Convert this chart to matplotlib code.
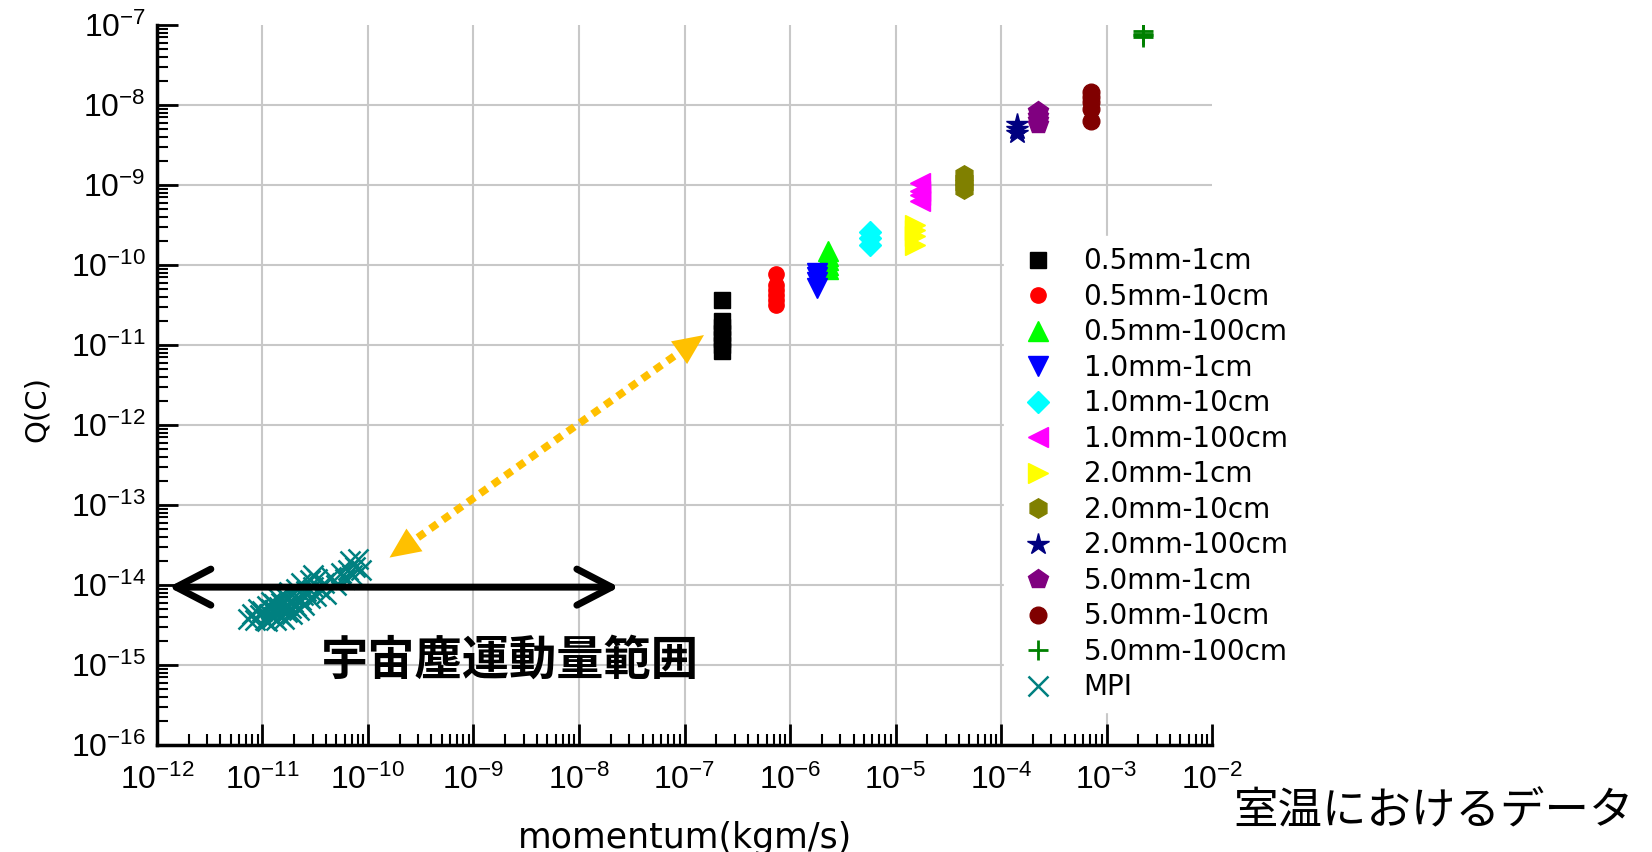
import numpy as np
import matplotlib
matplotlib.use('Agg')
import matplotlib.pyplot as plt
from matplotlib import font_manager
from matplotlib.ticker import LogLocator, LogFormatterSciNotation, NullFormatter

# series labels / styles
labels = ['0.5mm-1cm', '0.5mm-10cm', '0.5mm-100cm', '1.0mm-1cm', '1.0mm-10cm',
          '1.0mm-100cm', '2.0mm-1cm', '2.0mm-10cm', '2.0mm-100cm', '5.0mm-1cm',
          '5.0mm-10cm', '5.0mm-100cm', 'MPI']
markers = ['s', 'o', '^', 'v', 'D', '<', '>', 'h', '*', 'p', 'o', '+', 'x']
colors = ['#000000', '#ff0000', '#00ff00', '#0000ff', '#00ffff', '#ff00ff',
          '#ffff00', '#808000', '#000080', '#800080', '#800000', '#008000', '#008080']
sizes = [11, 11, 14, 14, 11, 14, 14, 14, 16, 15, 12, 14, 14]

# momentum (kgm/s) of each room temperature run
momentum = [2.28e-7, 7.3e-7, 2.29e-6, 1.79e-6, 5.7e-6, 1.69e-5,
            1.53e-5, 4.47e-5, 1.41e-4, 2.24e-4, 7.1e-4, 2.2e-3]

# measured charge Q (C)
q_05_1 = [3.6e-11, 2.0e-11, 1.7e-11, 1.4e-11, 1.2e-11, 1.0e-11, 8.5e-12]
q_05_10 = [7.7e-11, 5.6e-11, 4.8e-11, 4.2e-11, 3.6e-11, 3.2e-11]
q_05_100 = [1.5e-10, 1.3e-10, 1.15e-10, 1.0e-10, 9.0e-11]
q_10_1 = [8.0e-11, 7.0e-11, 6.2e-11, 5.2e-11]
q_10_10 = [2.6e-10, 2.2e-10, 1.8e-10]
q_10_100 = [1.05e-9, 8.5e-10, 7.5e-10, 6.3e-10]
q_20_1 = [3.2e-10, 2.7e-10, 2.3e-10, 1.8e-10]
q_20_10 = [1.35e-9, 1.15e-9, 1.0e-9, 9.0e-10]
q_20_100 = [5.7e-9, 5.0e-9, 4.4e-9]
q_50_1 = [8.5e-9, 7.3e-9, 6.5e-9, 5.8e-9]
q_50_10 = [1.45e-8, 1.25e-8, 1.1e-8, 9.0e-9, 6.3e-9]
q_50_100 = [8.5e-8, 7.8e-8, 7.4e-8, 7.0e-8]
charges = [q_05_1, q_05_10, q_05_100, q_10_1, q_10_10, q_10_100,
           q_20_1, q_20_10, q_20_100, q_50_1, q_50_10, q_50_100]

# MPI data
mpi_p = [7.3e-12, 8.0e-12, 8.5e-12, 9.0e-12, 9.5e-12, 1.0e-11, 1.05e-11, 1.1e-11,
         1.1e-11, 1.15e-11, 1.2e-11, 1.2e-11, 1.25e-11, 1.3e-11, 1.3e-11, 1.35e-11,
         1.4e-11, 1.4e-11, 1.45e-11, 1.5e-11, 1.5e-11, 1.55e-11, 1.6e-11, 1.6e-11,
         1.7e-11, 1.7e-11, 1.75e-11, 1.8e-11, 1.85e-11, 1.9e-11, 1.95e-11, 2.0e-11,
         2.1e-11, 2.1e-11, 2.2e-11, 2.3e-11, 2.3e-11, 2.4e-11, 2.5e-11, 2.6e-11,
         2.8e-11, 2.8e-11, 3.0e-11, 3.2e-11, 3.3e-11, 3.5e-11, 3.8e-11, 4.0e-11,
         4.5e-11, 5.0e-11, 5.5e-11, 6.0e-11, 6.5e-11, 7.0e-11, 7.5e-11, 8.0e-11,
         8.5e-11, 3.0e-11, 6.8e-11]
mpi_q = [3.8e-15, 4.4e-15, 3.6e-15, 5.0e-15, 4.2e-15, 4.7e-15, 3.7e-15, 5.5e-15,
         3.5e-15, 4.4e-15, 6.2e-15, 5.0e-15, 4.0e-15, 4.8e-15, 5.8e-15, 3.6e-15,
         6.8e-15, 4.5e-15, 5.3e-15, 4.1e-15, 6.0e-15, 7.5e-15, 5.0e-15, 3.8e-15,
         5.6e-15, 4.6e-15, 6.6e-15, 8.2e-15, 5.2e-15, 4.3e-15, 6.2e-15, 7.0e-15,
         5.5e-15, 9.0e-15, 4.8e-15, 6.5e-15, 1.05e-14, 7.6e-15, 5.7e-15, 8.5e-15,
         1.15e-14, 6.8e-15, 9.5e-15, 7.2e-15, 1.2e-14, 8.8e-15, 1.05e-14, 7.8e-15,
         1.25e-14, 1.0e-14, 1.4e-14, 1.2e-14, 1.55e-14, 1.35e-14, 1.7e-14, 2.1e-14,
         1.55e-14, 1.35e-14, 2.0e-14]

# dust momentum range and link arrow
dust_range = [1.29e-12, 2.4e-8]
dust_q = 9.4e-15
link_start = (1.6e-10, 2.2e-14)
link_end = (1.53e-7, 1.33e-11)

names = {f.name for f in font_manager.fontManager.ttflist}
narrow = 'Liberation Sans Narrow' if 'Liberation Sans Narrow' in names else 'Liberation Sans'
jp = ['Noto Sans CJK JP', 'DejaVu Sans']
plt.rcParams['mathtext.default'] = 'regular'

fig = plt.figure(figsize=(16.52, 8.52), dpi=100)
ax = fig.add_axes([0.095, 0.1256, 0.6387, 0.8451])

for i in range(12):
    ax.plot([momentum[i]] * len(charges[i]), charges[i], linestyle='none',
            marker=markers[i], color=colors[i], markersize=sizes[i],
            markeredgewidth=2 if markers[i] == '+' else 1, label=labels[i], zorder=3)
ax.plot(mpi_p, mpi_q, linestyle='none', marker='x', color=colors[12],
        markersize=sizes[12], markeredgewidth=1.8, label=labels[12], zorder=3)

ax.set_xscale('log')
ax.set_yscale('log')
ax.set_xlim(1e-12, 1e-2)
ax.set_ylim(1e-16, 1e-7)

for axis in (ax.xaxis, ax.yaxis):
    axis.set_major_locator(LogLocator(base=10, numticks=20))
    axis.set_minor_locator(LogLocator(base=10, subs=np.arange(2, 10), numticks=20))
    axis.set_major_formatter(LogFormatterSciNotation())
    axis.set_minor_formatter(NullFormatter())

ax.tick_params(which='major', direction='in', length=15, width=2)
ax.tick_params(which='minor', direction='in', length=8, width=1.5)
ax.tick_params(axis='x', which='major', pad=14)
ax.tick_params(axis='y', which='major', pad=8)
for lab in ax.get_xticklabels() + ax.get_yticklabels():
    lab.set_fontfamily(narrow)
    lab.set_fontsize(23)

for s in ['top', 'right']:
    ax.spines[s].set_visible(False)
for s in ['left', 'bottom']:
    ax.spines[s].set_linewidth(2.5)

ax.grid(which='major', color='#c8c8c8', linewidth=1.5, zorder=0)
ax.set_axisbelow(True)

ax.set_xlabel('momentum(kgm/s)', fontsize=25, va='center')
ax.xaxis.set_label_coords(0.5, -0.129)
ax.set_ylabel('Q(C)', fontsize=21, va='center')
ax.yaxis.set_label_coords(-0.114, 0.467)

# black double arrow: dust momentum range
ax.annotate('', xy=(dust_range[1], dust_q), xytext=(dust_range[0], dust_q),
            arrowprops=dict(arrowstyle='<->,head_length=1.25,head_width=0.65', color='black',
                            lw=5, mutation_scale=20, shrinkA=0, shrinkB=0), zorder=4)
ax.text(2.2e-9, 1.15e-15, '宇宙塵運動量範囲', fontsize=34, fontweight='bold',
        family=jp, ha='center', va='center')

# orange dotted link arrow: dotted shaft + filled heads
ax.annotate('', xy=link_end, xytext=link_start,
            arrowprops=dict(arrowstyle='-', color='#ffc000', lw=5.5,
                            linestyle=(0, (1.1, 0.9)), capstyle='butt',
                            shrinkA=14, shrinkB=14), zorder=4)
ax.annotate('', xy=link_end, xytext=link_start,
            arrowprops=dict(arrowstyle='<|-|>,head_length=1.1,head_width=0.5',
                            color='#ffc000', lw=0, mutation_scale=20,
                            shrinkA=0, shrinkB=0), zorder=4)

leg = ax.legend(loc='upper left', bbox_to_anchor=(0.79, 0.726), fontsize=20,
                frameon=True, fancybox=False, framealpha=1, edgecolor='white',
                facecolor='white', numpoints=1, handlelength=1.6,
                handletextpad=0.85, labelspacing=0.27, borderpad=0.4)
leg.set_zorder(5)

fig.text(0.868, 0.048, '室温におけるデータ', fontsize=32, family=jp,
         ha='center', va='center')

fig.canvas.draw()
for t in ax.yaxis.get_major_ticks():
    if np.isclose(t.get_loc(), 1e-7):
        t.gridline.set_visible(False)
for t in ax.xaxis.get_major_ticks():
    if np.isclose(t.get_loc(), 1e-2):
        t.gridline.set_visible(False)

fig.savefig('out.png', dpi=100)
